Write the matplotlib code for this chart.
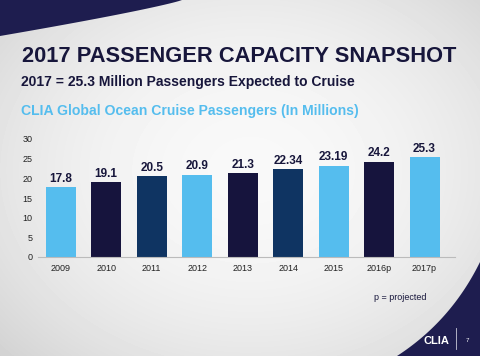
import numpy as np
import matplotlib
matplotlib.use("Agg")
import matplotlib.pyplot as plt
from matplotlib import font_manager
from matplotlib.patches import Polygon

# ---------------------------------------------------------------------------
# Data
# ---------------------------------------------------------------------------
years = ["2009", "2010", "2011", "2012", "2013", "2014", "2015", "2016p", "2017p"]
passengers = [17.8, 19.1, 20.5, 20.9, 21.3, 22.34, 23.19, 24.2, 25.3]
value_labels = ["17.8", "19.1", "20.5", "20.9", "21.3", "22.34", "23.19", "24.2", "25.3"]

LIGHT = "#55bdee"
DARK = "#16143d"
MID = "#0f3462"
NAVY = "#1e1d4f"
bar_colors = [LIGHT, DARK, MID, LIGHT, DARK, MID, LIGHT, DARK, LIGHT]

plt.rcParams["font.family"] = ["Liberation Sans", "DejaVu Sans"]

# condensed face for the big headline, if one is installed
installed = {f.name for f in font_manager.fontManager.ttflist}
HEAD_FONT = "Liberation Sans Narrow" if "Liberation Sans Narrow" in installed else "Liberation Sans"

W, H = 480, 356
fig = plt.figure(figsize=(W / 100, H / 100), dpi=100)

# ---------------------------------------------------------------------------
# Slide background (pixel coordinates)
# ---------------------------------------------------------------------------
bg = fig.add_axes([0, 0, 1, 1])
bg.set_xlim(0, W)
bg.set_ylim(H, 0)
bg.axis("off")

yy, xx = np.mgrid[0:H, 0:W]
r = np.sqrt(((xx - 250) / 330.0) ** 2 + ((yy - 170) / 260.0) ** 2)
shade = np.clip(0.975 - 0.14 * r ** 2, 0.80, 1.0)
bg.imshow(shade, cmap="gray", vmin=0, vmax=1, extent=(0, W, H, 0), zorder=0)

# top-left swoosh
sx = np.linspace(0, 182, 60)
sy = 36 * (1 - sx / 182) ** 0.87
top = np.column_stack([np.r_[sx, 0], np.r_[sy, 0]])
bg.add_patch(Polygon(top, closed=True, color=NAVY, lw=0, zorder=1))

# bottom-right corner
t = np.linspace(0, 1, 60)[:, None]
p0, c, p2 = np.array([397, 356]), np.array([451, 321]), np.array([480, 262])
curve = (1 - t) ** 2 * p0 + 2 * (1 - t) * t * c + t ** 2 * p2
corner = np.vstack([curve, [[480, 356]]])
bg.add_patch(Polygon(corner, closed=True, color=NAVY, lw=0, zorder=1))

# logo and page number
bg.text(436, 341, "CLIA", color="white", fontsize=8, fontweight="bold",
        ha="center", va="center", zorder=2)
bg.plot([456, 456], [328, 349], color="#c8c8d8", lw=0.6, zorder=2)
bg.text(467, 341, "7", color="white", fontsize=4.5, ha="center", va="center", zorder=2)


def fit_text(x, y, s, width_px, size, **kw):
    """Place text and shrink it so its width stays within width_px."""
    txt = bg.text(x, y, s, fontsize=size, ha="left", va="center", zorder=2, **kw)
    renderer = fig.canvas.get_renderer()
    w = txt.get_window_extent(renderer).width
    if w > width_px:
        txt.set_fontsize(size * width_px / w)
    return txt


# titles
fit_text(22, 56, "2017 PASSENGER CAPACITY SNAPSHOT", 433, 17.5,
         color="#17163b", fontweight="bold", family=[HEAD_FONT, "DejaVu Sans"])
fit_text(21, 82, "2017 = 25.3 Million Passengers Expected to Cruise", 337, 10,
         color="#17163b", fontweight="bold")
fit_text(21, 111, "CLIA Global Ocean Cruise Passengers (In Millions)", 339, 11,
         color=LIGHT, fontweight="bold")
bg.text(400, 298, "p = projected", color="#17163b", fontsize=6.5,
        ha="center", va="center", zorder=2)

# ---------------------------------------------------------------------------
# Bar chart
# ---------------------------------------------------------------------------
y0_px, y30_px = 257, 139
left_px, right_px = 38, 455
ax = fig.add_axes([left_px / W, 1 - y0_px / H,
                   (right_px - left_px) / W, (y0_px - y30_px) / H])
ax.patch.set_alpha(0)

x = np.arange(len(years))
ax.bar(x, passengers, width=0.66, color=bar_colors, zorder=2)
for xi, v, lab in zip(x, passengers, value_labels):
    ax.text(xi, v + 0.6, lab, ha="center", va="bottom", fontsize=8.5,
            fontweight="bold", color="#17163b")

ax.set_xlim(-0.5, 8.67)
ax.set_ylim(0, 30)
ax.set_yticks(range(0, 31, 5))
ax.set_xticks(x)
ax.set_xticklabels(years)
ax.tick_params(axis="both", length=0, labelsize=6.5, colors="#222222")
ax.tick_params(axis="y", pad=4)
ax.tick_params(axis="x", pad=5)
for side in ("top", "right", "left"):
    ax.spines[side].set_visible(False)
ax.spines["bottom"].set_color("#bbbbbb")
ax.spines["bottom"].set_linewidth(0.8)

fig.savefig("out.png", dpi=100)
